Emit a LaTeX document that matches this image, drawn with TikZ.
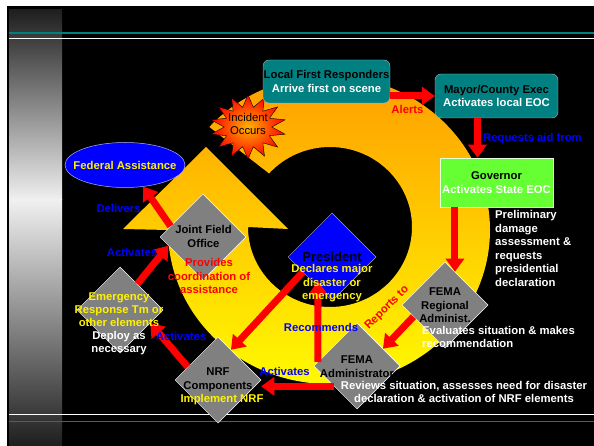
\documentclass[tikz,border=0pt]{standalone}
\usepackage{fontspec}
\setmainfont{Liberation Sans}
\usetikzlibrary{arrows.meta, shapes.geometric, calc}

\definecolor{slideteal}{HTML}{008080}
\definecolor{govgreen}{HTML}{66FF33}
\definecolor{diagray}{HTML}{808080}
\definecolor{ringorange}{HTML}{FF9900}
\definecolor{stripdark}{HTML}{1E1E1E}
\definecolor{striplight}{HTML}{F0F0F0}

\begin{document}
\begin{tikzpicture}[x = 1pt, y = -1pt,
	> = {Triangle[length = 13pt, width = 18pt]},
	flow/.style = {draw = red, line width = 7pt, ->},
	box/.style = {rectangle, rounded corners = 6pt, fill = slideteal, draw = gray!60, inner sep = 0pt},
	dia/.style = {diamond, fill = diagray, draw = white, line width = 0.5pt, minimum width = 86pt, minimum height = 86pt, inner sep = 0pt},
	txt/.style = {font = \fontsize{11.3}{13.5}\selectfont\bfseries, align = center, inner sep = 0pt},
	tag/.style = {txt, text = blue}]

	\useasboundingbox (0, 0) rectangle (594, 446);

	% Slide background
	
	\fill [white] (0, 0) rectangle (594, 446);
	\fill [black] (7, 6) rectangle (594, 446);
	\shade [top color = stripdark, bottom color = striplight] (9, 9.5) rectangle (62, 200);
	\shade [top color = striplight, bottom color = stripdark] (9, 200) rectangle (62, 446);
	\draw [slideteal, line width = 1.5pt] (9, 33) -- (594, 33);
	\draw [white, line width = 1pt] (9, 38.5) -- (594, 38.5);
	\draw [white, line width = 1pt] (9, 414) -- (594, 414);
	\draw [slideteal, line width = 1.5pt] (9, 421.5) -- (594, 421.5);
	
	% Circular arrow
	
	\shade [top color = ringorange, bottom color = yellow]
		(329, 230) ++(-138:161 and 154) arc [start angle = -138, end angle = 180, x radius = 161, y radius = 154]
		-- (123, 229) -- (206, 147) -- (288, 229) -- (248, 227)
		arc [start angle = 180, end angle = -138, x radius = 82, y radius = 80] -- cycle;
	
	% Incident
	
	\begin{scope}[shift = {(248, 127)}, yscale = 0.85]
		\node [star, star points = 14, star point ratio = 1.6, minimum size = 76pt, inner color = orange!60!yellow, outer color = red, draw = black, line width = 0.4pt, transform shape] (incident) at (0, 0) {};
	\end{scope}
	\node [txt, font = \fontsize{11.3}{13.5}\selectfont] (incidentT) at (248, 124) {Incident\\Occurs};
	
	% Local and state level
	
	\node [box, minimum width = 127pt, minimum height = 43pt] (responders) at (326.5, 81.5) {};
	\node [txt] (respondersT) at (responders) {Local First Responders\\\textcolor{white}{Arrive first on scene}};
	\node [box, minimum width = 123pt, minimum height = 44pt] (mayor) at (496.5, 96) {};
	\node [txt] (mayorT) at (mayor) {Mayor/County Exec\\\textcolor{white}{Activates local EOC}};
	\node [rectangle, fill = govgreen, draw = white!80!govgreen, line width = 0.5pt, minimum width = 113pt, minimum height = 49pt] (governor) at (496.5, 182.5) {};
	\node [txt] (governorT) at (governor) {Governor\\\textcolor{white}{Activates State EOC}};
	
	% Federal level
	
	\node [dia] (regional) at (445, 305) {};
	\node [dia] (admin) at (357, 366) {};
	\node [dia, fill = blue, draw = gray!70, minimum width = 88pt, minimum height = 88pt] (president) at (332, 257) {};
	\node [dia] (nrf) at (218, 380) {};
	\node [dia] (emergency) at (120, 310) {};
	\node [dia] (jfo) at (203, 237) {};
	\node [ellipse, fill = blue, draw = white!70!blue, line width = 0.5pt, minimum width = 120pt, minimum height = 45pt] (federal) at (125, 165) {};
	
	% Arrows
	
	\coordinate (regionaltop) at ($(regional.north)!0.23!(regional.east)$);
	\coordinate (adminleft) at ($(admin.west)!0.47!(admin.south)$);
	\draw [flow] (responders.east |- mayor.west) -- (mayor.west);
	\draw [flow] ([xshift = -19pt] mayor.south) -- ([xshift = -19pt] governor.north);
	\draw [flow] (governor.south -| regionaltop) -- (regionaltop);
	\draw [flow] ($(regional.west)!0.27!(regional.south)$) -- ($(admin.north)!0.6!(admin.east)$);
	\draw [flow] ([xshift = 4pt, yshift = 4pt] admin.west) -- ([xshift = -14pt, yshift = 20pt] president.south);
	\draw [flow] ($(president.west)!0.34!(president.south)$) -- ($(nrf.north)!0.3!(nrf.east)$);
	\draw [flow] (adminleft) -- (adminleft -| nrf.east);
	\draw [flow] ($(nrf.west)!0.3!(nrf.north)$) -- ($(emergency.east)!0.3!(emergency.south)$);
	\draw [flow] ($(emergency.north)!0.4!(emergency.east)$) -- ($(jfo.west)!0.2!(jfo.south)$);
	\draw [flow] ($(jfo.west)!0.25!(jfo.north)$) -- (federal.-50);
	
	% Arrow labels
	
	\node [txt, text = red] (alerts) at (407.5, 109) {Alerts};
	\node [tag] (requests) at (532.5, 139) {Requests aid from};
	\node [txt, text = red, rotate = 45] (reports) at (387, 308) {Reports to};
	\node [tag] (recommends) at (321, 327) {Recommends};
	\node [tag] (activatesnrf) at (284.5, 371) {Activates};
	\node [tag] (activatesert) at (181, 336) {Activates};
	\node [tag] (activatesjfo) at (132, 252) {Activates};
	\node [tag] (delivers) at (118.5, 208) {Delivers};
	
	% Texts
	
	\node [txt, text = white, align = left, anchor = west] (preliminary) at (495, 248.5) {Preliminary\\damage\\assessment \&\\requests\\presidential\\declaration};
	\node [txt] (regionalT) at (445, 305.5) {FEMA\\Regional\\Administ.};
	\node [txt, text = white, align = left, anchor = west] (evaluates) at (422, 337) {Evaluates situation \& makes\\recommendation};
	\node [txt] (adminT) at (357, 366.5) {FEMA\\Administrator};
	\node [txt, text = white] (reviews) at (464, 392) {Reviews situation, assesses need for disaster\\declaration \& activation of NRF elements};
	\node [txt, font = \fontsize{13}{14}\selectfont\bfseries] (presidentT) at (332, 257) {President};
	\node [txt, text = yellow] (declares) at (332, 283.5) {Declares major\\disaster or\\emergency};
	\node [txt] (nrfT) at (218, 380) {NRF\\Components};
	\node [txt, text = yellow] (implement) at (222, 400) {Implement NRF};
	\node [txt, font = \fontsize{11.3}{13}\selectfont\bfseries] (emergencyT) at (119, 324) {\textcolor{yellow}{Emergency}\\\textcolor{yellow}{Response Tm or}\\\textcolor{yellow}{other elements}\\\textcolor{white}{Deploy as}\\\textcolor{white}{necessary}};
	\node [txt] (jfoT) at (203.5, 236.5) {Joint Field\\Office};
	\node [txt, text = red] (provides) at (209, 276) {Provides\\coordination of\\assistance};
	\node [txt, text = yellow] (federalT) at (federal) {Federal Assistance};
	
\end{tikzpicture}
\end{document}
